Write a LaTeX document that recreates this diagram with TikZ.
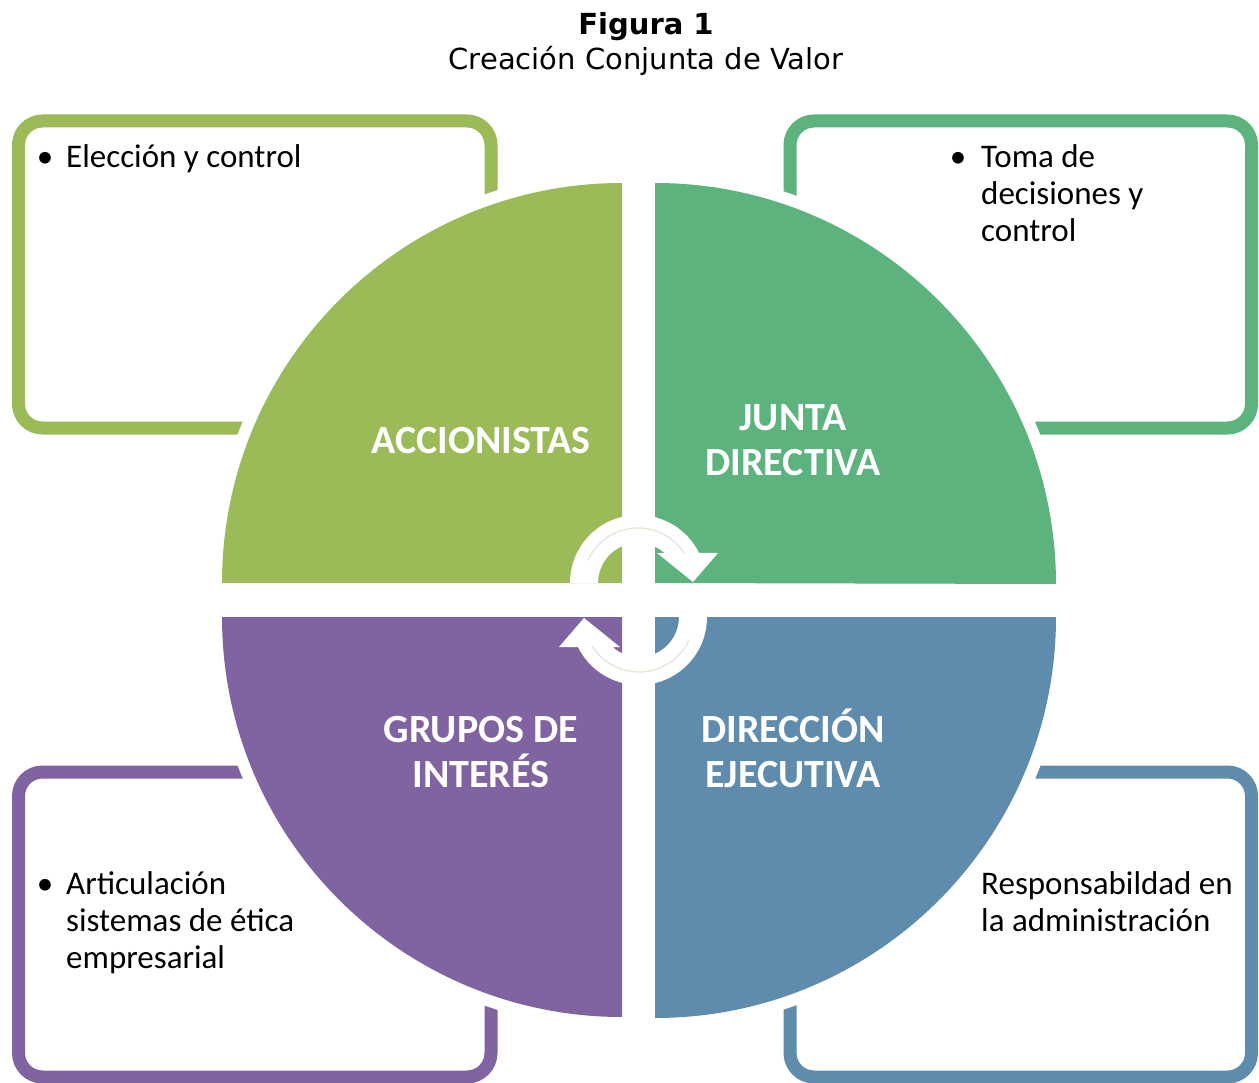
\documentclass[tikz,border=0pt]{standalone}
\usepackage{fontspec}
\setmainfont{Carlito}
\newfontfamily\titlefont{DejaVu Sans}
\definecolor{cA}{HTML}{9BBB59}
\definecolor{cB}{HTML}{5DB37E}
\definecolor{cC}{HTML}{8064A2}
\definecolor{cD}{HTML}{5F8BAD}
\definecolor{faint}{RGB}{222,232,212}
\begin{document}
\begin{tikzpicture}[x=1pt,y=-1pt,
  box/.style={line width=13pt, rounded corners=24pt},
  halo/.style={draw=white, fill=white, line width=24pt, line join=round},
  lbl/.style={text=white, font=\fontsize{40}{45}\selectfont\bfseries, align=center, inner sep=0pt, anchor=base},
  txt/.style={text=black, font=\fontsize{33}{37}\selectfont, align=left, inner sep=0pt, anchor=base west},
  bul/.style={text=black, font=\fontsize{33}{37}\selectfont, inner sep=0pt, anchor=base},
  cyc/.style={fill=white, draw=none}]
\useasboundingbox (0,0) rectangle (1259,1083);
\fill[white] (0,0) rectangle (1259,1083);
% title
\node[font={\titlefont\fontsize{29}{34}\selectfont\bfseries}, inner sep=0pt, anchor=base] (fig) at (646,35) {Figura 1};
\node[font={\titlefont\fontsize{29}{34}\selectfont}, inner sep=0pt, anchor=base] (tit) at (646,70) {Creación Conjunta de Valor};
% outer boxes
\draw[box, draw=cA] (18.5,121) rectangle (491,428);
\draw[box, draw=cB] (790,121) rectangle (1251.5,428);
\draw[box, draw=cC] (18.5,772) rectangle (491,1077);
\draw[box, draw=cD] (790,772) rectangle (1251.5,1077);
% white halos
\path[halo] (622,583) -- (222,583) arc[start angle=180, end angle=270, radius=400] -- cycle;
\path[halo] (655,583) -- (655,183) arc[start angle=270, end angle=360, radius=401] -- cycle;
\path[halo] (655,617) -- (1056,617) arc[start angle=0, end angle=90, radius=401] -- cycle;
\path[halo] (622,617) -- (622,1017) arc[start angle=90, end angle=180, radius=400] -- cycle;
% sectors
\fill[cA] (622,583) -- (222,583) arc[start angle=180, end angle=270, radius=400] -- cycle;
\fill[cB] (655,583) -- (655,183) arc[start angle=270, end angle=360, radius=401] -- cycle;
\fill[cD] (655,617) -- (1056,617) arc[start angle=0, end angle=90, radius=401] -- cycle;
\fill[cC] (622,617) -- (622,1017) arc[start angle=90, end angle=180, radius=400] -- cycle;
% circular arrows
\path[cyc] (570,583) arc[start angle=180, end angle=333.8, radius=68] -- (718,553) -- (693,582) -- (657,553) -- (664.5,553) arc[start angle=311.5, end angle=180, radius=40] -- cycle;
\path[cyc] (707,617) arc[start angle=0, end angle=153.8, radius=68] -- (559,647) -- (584,618) -- (620,647) -- (612.5,647) arc[start angle=131.5, end angle=0, radius=40] -- cycle;
\draw[faint, line width=1.2pt] (638,583) ++(205:55) arc[start angle=205, end angle=328, radius=55];
\draw[faint, line width=1.2pt] (639,617) ++(25:55) arc[start angle=25, end angle=148, radius=55];
% sector labels (anchor base = baseline of last line)
\node[lbl] (acc) at (481,453) {ACCIONISTAS};
\node[lbl] (jun) at (793,475) {JUNTA\\DIRECTIVA};
\node[lbl] (gru) at (481,787) {GRUPOS DE\\INTERÉS};
\node[lbl] (dir) at (793,787) {DIRECCIÓN\\EJECUTIVA};
% box texts
\node[bul] (b1) at (45,168) {•};
\node[txt] (t1) at (66,168) {Elección y control};
\node[bul] (b2) at (958,168) {•};
\node[txt] (t2) at (981,242) {Toma de\\decisiones y\\control};
\node[bul] (b3) at (45,894) {•};
\node[txt] (t3) at (66,968) {Articulación\\sistemas de ética\\empresarial};
\node[txt] (t4) at (981,931) {Responsabildad en\\la administración};
\end{tikzpicture}
\end{document}
